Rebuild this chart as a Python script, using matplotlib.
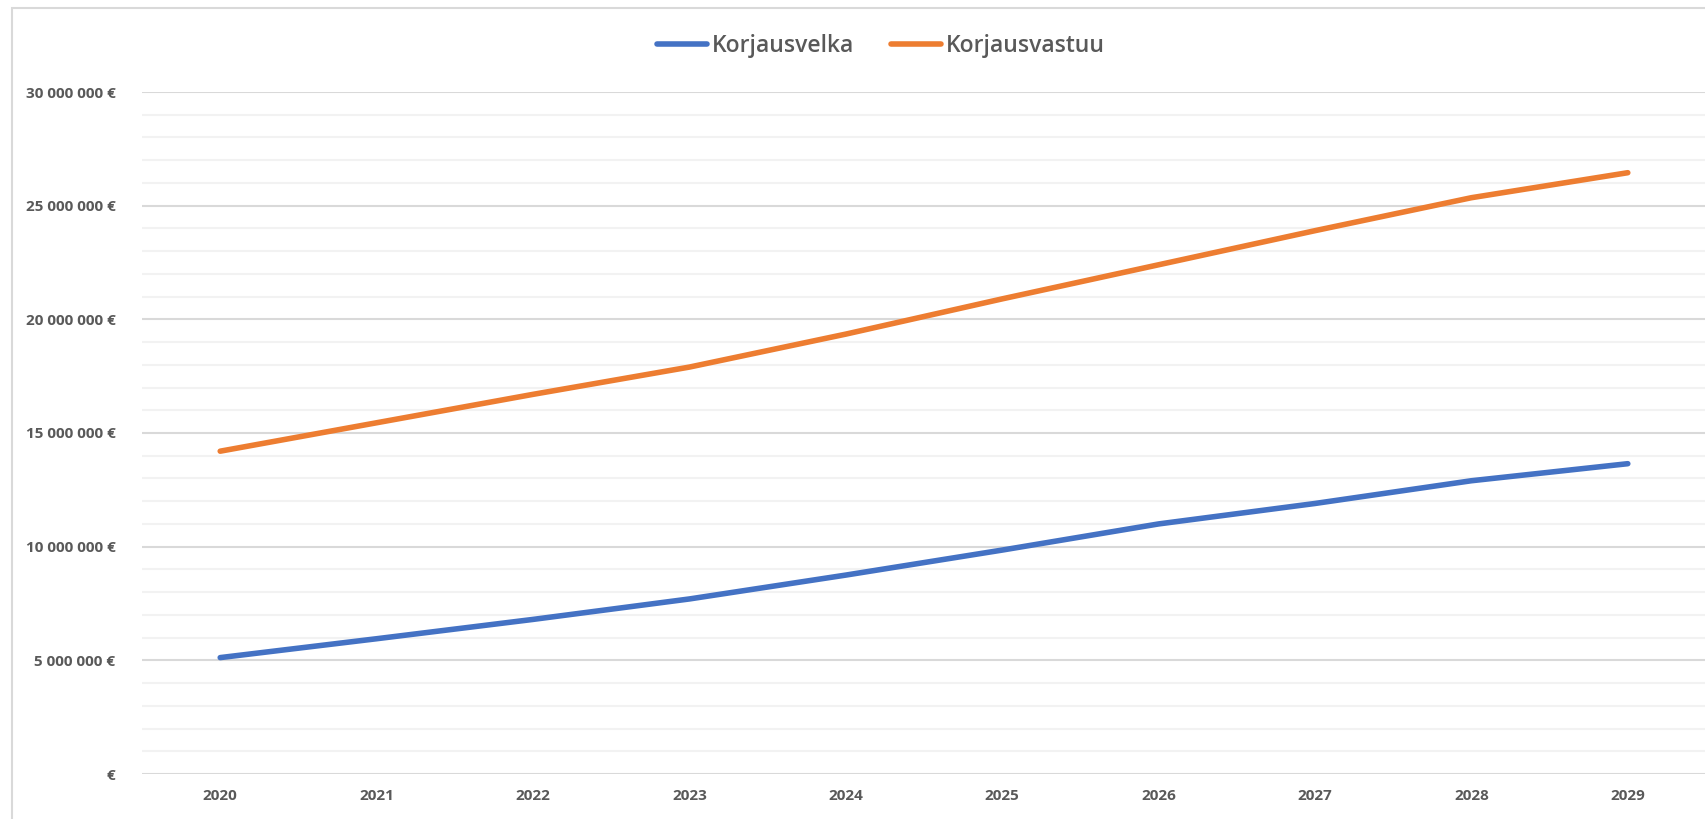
import matplotlib.pyplot as plt
from matplotlib.ticker import FuncFormatter, MultipleLocator
from matplotlib.patches import Rectangle

years = ["2020", "2021", "2022", "2023", "2024", "2025", "2026", "2027", "2028", "2029"]
korjausvelka = [5.12e6, 5.95e6, 6.8e6, 7.7e6, 8.75e6, 9.85e6, 11.0e6, 11.9e6, 12.9e6, 13.65e6]
korjausvastuu = [14.2e6, 15.45e6, 16.7e6, 17.9e6, 19.35e6, 20.9e6, 22.4e6, 23.9e6, 25.35e6, 26.45e6]

plt.rcParams['font.family'] = ['Open Sans', 'DejaVu Sans']
text_color = '#595959'

fig = plt.figure(figsize=(17.06, 8.19), dpi=100)
ax = fig.add_axes([142 / 1706, 1 - 774 / 819, 1 - 142 / 1706, (774 - 92) / 819])

# chart frame like Excel
fig.patches.append(Rectangle((12 / 1706, -0.01), 1.0, 1 - 8 / 819 + 0.01, transform=fig.transFigure,
                             fill=False, edgecolor='#d9d9d9', linewidth=1.5))

x = range(len(years))
ax.plot(x, korjausvelka, color='#4472C4', linewidth=4, solid_capstyle='round', label='Korjausvelka', zorder=3)
ax.plot(x, korjausvastuu, color='#ED7D31', linewidth=4, solid_capstyle='round', label='Korjausvastuu', zorder=3)

ax.set_xlim(-0.5, len(years) - 0.5)
ax.set_ylim(0, 30e6)
ax.set_xticks(list(x))
ax.set_xticklabels(years)
ax.yaxis.set_major_locator(MultipleLocator(5e6))
ax.yaxis.set_minor_locator(MultipleLocator(1e6))


def euro(v, pos):
    if v == 0:
        return '€'
    return f"{int(v):,} €".replace(',', ' ')


ax.yaxis.set_major_formatter(FuncFormatter(euro))
ax.grid(axis='y', which='major', color='#d9d9d9', linewidth=1.5, zorder=1)
ax.grid(axis='y', which='minor', color='#f2f2f2', linewidth=1.5, zorder=1)
ax.set_axisbelow(True)
for s in ax.spines.values():
    s.set_visible(False)
ax.tick_params(axis='both', which='both', length=0, colors=text_color)
ax.tick_params(axis='y', pad=19)
ax.tick_params(axis='x', pad=11)
for lbl in ax.get_xticklabels() + ax.get_yticklabels():
    lbl.set_fontsize(11)
    lbl.set_fontweight('bold')

leg = fig.legend(loc='center', bbox_to_anchor=(881 / 1706, 1 - 46 / 819), ncol=2, frameon=False,
                 prop={'size': 16.5, 'weight': 'semibold'},
                 handlelength=2.2, handletextpad=0.2, columnspacing=1.6)
for t in leg.get_texts():
    t.set_color(text_color)

fig.savefig('out.png', dpi=100)
